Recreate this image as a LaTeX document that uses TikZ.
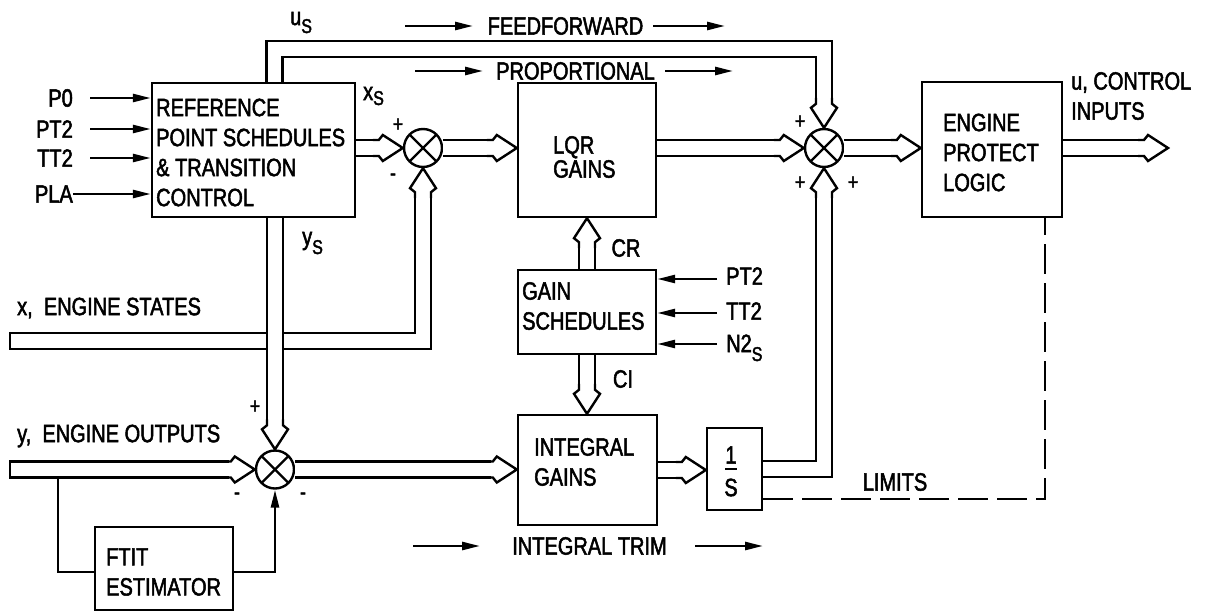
\documentclass[tikz,border=0pt]{standalone}
\usepackage{fontspec}
\setmainfont{Liberation Sans}[FakeStretch=0.8,FakeBold=2]
\usetikzlibrary{calc,arrows.meta}
\newcommand\dhead[2]{\draw[hd,shift={(#1)},rotate=#2] (-30,-8) -- (-24,-8) -- (-20,-13) -- (0,0) -- (-20,13) -- (-24,8) -- (-30,8);}
\newcommand\subS[1]{\raisebox{#1}{\fontsize{20}{20}\selectfont S}}
\begin{document}
\begin{tikzpicture}[x=1pt,y=-1pt,
  font=\fontsize{25}{30}\selectfont,
  lw/.style={line width=2.4pt},
  box/.style={draw,line width=2.4pt,inner sep=0pt},
  sum/.style={circle,draw,line width=2.4pt,minimum size=38pt,inner sep=0pt},
  dbl/.style={line width=2.4pt,double=white,double distance=13.6pt,line join=miter},
  hd/.style={line width=2.4pt,line join=miter},
  sa/.style={line width=2.6pt,-{Triangle[length=18pt,width=8pt]}},
  dsh/.style={line width=2.6pt,dash pattern=on 30pt off 9pt},
  txt/.style={inner sep=0pt,align=left},
  sgn/.style={inner sep=0pt,font=\fontsize{22}{22}\selectfont},
]
\useasboundingbox (0,0) rectangle (1220,613);

% boxes
\node[box,minimum width=203pt,minimum height=134pt] (ref) at (253.5,150) {};
\node[box,minimum width=138pt,minimum height=134pt] (lqr) at (587,150) {};
\node[box,minimum width=140pt,minimum height=135pt] (epl) at (992,149.5) {};
\node[box,minimum width=138pt,minimum height=84pt] (gain) at (587,312) {};
\node[box,minimum width=139pt,minimum height=110pt] (int) at (587.5,470) {};
\node[box,minimum width=55pt,minimum height=82pt] (ones) at (734.5,469) {};
\node[box,minimum width=138pt,minimum height=83pt] (ftit) at (164,568.5) {};

% summing junctions
\node[sum] (s1) at (423,148) {};
\node[sum] (s2) at (275,469.5) {};
\node[sum] (s3) at (824,148) {};
\foreach \s in {s1,s2,s3} {
  \draw[lw] ($(\s)+(-13.4,-13.4)$) -- ($(\s)+(13.4,13.4)$);
  \draw[lw] ($(\s)+(-13.4,13.4)$) -- ($(\s)+(13.4,-13.4)$);
}

% box texts
\node[txt,anchor=west] (tref) at (156,152.5) {REFERENCE\\POINT SCHEDULES\\\& TRANSITION\\CONTROL};
\node[txt,anchor=west] (tlqr) at (553,157) {LQR\\[-6pt]GAINS};
\node[txt,anchor=west] (tepl) at (943,152.5) {ENGINE\\PROTECT\\LOGIC};
\node[txt,anchor=west] (tgain) at (522,306) {GAIN\\SCHEDULES};
\node[txt,anchor=west] (tint) at (534,462) {INTEGRAL\\GAINS};
\node[txt,anchor=west] (tftit) at (106,572) {FTIT\\ESTIMATOR};
\node[txt] (one) at (731,455) {1};
\node[txt] (ess) at (731,487.5) {S};
\draw[lw] ($(one.south)+(-6,5)$) -- ($(one.south)+(6,5)$);

% labels
\node[txt,anchor=west] (tu) at (1071,96) {u, CONTROL\\INPUTS};
\node[txt,anchor=west] (tx) at (17,308) {x,\ \ ENGINE STATES};
\node[txt,anchor=west] (ty) at (17,436) {y,\ \ ENGINE OUTPUTS};
\node[txt,anchor=base west] (lus) at (290,25) {u\subS{-8pt}};
\node[txt,anchor=base west] (lxs) at (363,100) {x\subS{-5pt}};
\node[txt,anchor=base west] (lys) at (302,245) {y\subS{-9pt}};
\node[txt] (lcr) at (626,248) {CR};
\node[txt] (lci) at (623,379) {CI};
\node[txt] (llim) at (895,482) {LIMITS};

% left inputs
\node[txt,anchor=east] (lp0) at (73,98) {P0};
\node[txt,anchor=east] (lpt) at (73,129) {PT2};
\node[txt,anchor=east] (ltt) at (73,158) {TT2};
\node[txt,anchor=east] (lpla) at (73,194) {PLA};
\draw[sa] ($(lp0.east)+(17,0)$) -- (lp0 -| ref.west);
\draw[sa] ($(lpt.east)+(17,0)$) -- (lpt -| ref.west);
\draw[sa] ($(ltt.east)+(17,0)$) -- (ltt -| ref.west);
\draw[sa] (lpla.east) -- (lpla -| ref.west);

% gain schedule inputs
\node[txt,anchor=west] (gpt) at (726,276) {PT2};
\node[txt,anchor=west] (gtt) at (726,311) {TT2};
\node[txt,anchor=base west] (gn2) at (726,352) {N2\subS{-9pt}};
\draw[sa] ($(gpt.west)+(-9,3)$) -- ($(gpt.west -| gain.east)+(0,3)$);
\draw[sa] ($(gtt.west)+(-9,2)$) -- ($(gtt.west -| gain.east)+(0,2)$);
\draw[sa] ($(gn2.base west)+(-9,-8)$) -- ($(gn2.base west -| gain.east)+(0,-8)$);

% flow labels
\node[txt] (lff) at (565.5,26) {FEEDFORWARD};
\draw[sa] ($(lff)+(-160.5,0)$) -- ($(lff)+(-92.5,0)$);
\draw[sa] ($(lff)+(87.5,0)$) -- ($(lff)+(159.5,0)$);
\node[txt] (lpr) at (575.5,71) {PROPORTIONAL};
\draw[sa] ($(lpr)+(-160.5,0)$) -- ($(lpr)+(-92.5,0)$);
\draw[sa] ($(lpr)+(89.5,0)$) -- ($(lpr)+(157.5,0)$);
\node[txt] (lit) at (589.5,546) {INTEGRAL TRIM};
\draw[sa] ($(lit)+(-176.5,0)$) -- ($(lit)+(-109.5,0)$);
\draw[sa] ($(lit)+(105.5,0)$) -- ($(lit)+(173.5,0)$);

% signs
\node[sgn] at (398,125) {+};
\node[sgn] at (393,177) {-};
\node[sgn] at (800,122) {+};
\node[sgn] at (800,183) {+};
\node[sgn] at (853,183) {+};
\node[sgn] at (255,407) {+};
\node[sgn] at (237,496) {-};
\node[sgn] at (303,496) {-};

% x, engine states bar
\coordinate (xl) at (10,341);
\draw[dbl] (xl) -- (xl -| s1) -- ($(s1.south)+(0,26)$);
\dhead{s1.south}{90}
\draw[lw] ($(xl)+(0,-9.2)$) -- ($(xl)+(0,9.2)$);

% y_s
\draw[dbl] (ref.south -| s2) -- ($(s2.north)+(0,-26)$);
\dhead{s2.north}{-90}

% feedforward u_s
\coordinate (fa) at (274.5,49);
\draw[dbl] (ref.north -| fa) -- (fa) -- (fa -| s3) -- ($(s3.north)+(0,-26)$);
\dhead{s3.north}{-90}

% ref -> s1
\draw[dbl] (ref.east |- s1) -- ($(s1.west)+(-26,0)$);
\dhead{s1.west}{0}

% s1 -> lqr
\coordinate (t1) at (lqr.west |- s1);
\draw[dbl] (s1.east) -- ($(t1)+(-26,0)$);
\dhead{t1}{0}

% lqr -> s3
\draw[dbl] (lqr.east |- s3) -- ($(s3.west)+(-26,0)$);
\dhead{s3.west}{0}

% s3 -> epl
\coordinate (t2) at (epl.west |- s3);
\draw[dbl] (s3.east) -- ($(t2)+(-26,0)$);
\dhead{t2}{0}

% output u
\coordinate (uo) at (1168,148);
\draw[dbl] (epl.east |- uo) -- ($(uo)+(-26,0)$);
\dhead{uo}{0}

% CR
\draw[dbl] (gain.north) -- ($(lqr.south)+(0,26)$);
\dhead{lqr.south}{90}

% CI
\coordinate (t3) at (gain.south |- int.north);
\draw[dbl] (gain.south) -- ($(t3)+(0,-26)$);
\dhead{t3}{-90}

% y, engine outputs bar
\coordinate (yl) at (10,469.5);
\draw[dbl] (yl) -- ($(s2.west)+(-26,0)$);
\dhead{s2.west}{0}
\draw[lw] ($(yl)+(0,-9.2)$) -- ($(yl)+(0,9.2)$);

% s2 -> int
\coordinate (t4) at (int.west |- s2);
\draw[dbl] (s2.east) -- ($(t4)+(-26,0)$);
\dhead{t4}{0}

% int -> 1/s
\coordinate (t5) at (ones.west |- int);
\draw[dbl] (int.east |- t5) -- ($(t5)+(-26,0)$);
\dhead{t5}{0}

% 1/s -> s3
\draw[dbl] (ones.east) -- (ones.east -| s3) -- ($(s3.south)+(0,26)$);
\dhead{s3.south}{90}

% limits
\coordinate (lim) at (1045,499);
\draw[dsh] (ones.east |- lim) -- (lim) -- (lim |- epl.south);

% FTIT loop
\coordinate (f1) at (58,478);
\coordinate (f2) at (58,572);
\draw[lw] (f1) -- (f2) -- (f2 -| ftit.west);
\draw[sa] (f2 -| ftit.east) -- (f2 -| s2) -- (s2.south);
\end{tikzpicture}
\end{document}
